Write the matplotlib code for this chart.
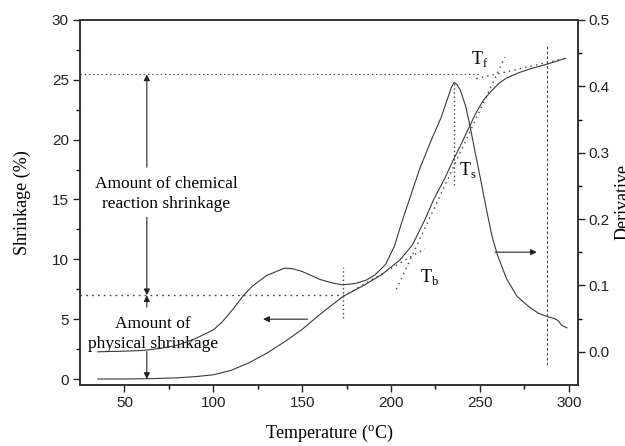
import numpy as np
import matplotlib
matplotlib.use('Agg')
import matplotlib.pyplot as plt

# shrinkage curve (left axis, %)
temp_s = [35, 50, 65, 80, 90, 100, 110, 120, 130, 140, 150, 160, 173, 185, 195,
          205, 212, 219, 224, 230, 235, 240, 243.5, 248, 252, 256, 261, 265, 272,
          278, 287.6, 293, 298]
shrink = [0.0, 0.0, 0.03, 0.1, 0.2, 0.35, 0.72, 1.35, 2.15, 3.1, 4.15, 5.4, 6.9,
          7.85, 8.75, 9.95, 11.2, 13.3, 15.0, 16.7, 18.3, 19.8, 20.9, 22.3, 23.3,
          24.0, 24.75, 25.15, 25.6, 25.9, 26.3, 26.55, 26.8]

# derivative curve (right axis)
temp_d = [35, 50, 60, 70, 80, 90, 100, 105, 111, 117, 122, 130, 140, 145, 150,
          160, 168, 173, 180, 186, 191, 197, 202, 206, 211, 216, 222, 228, 232,
          234, 235.5, 237, 239, 242, 244.5, 247, 250, 254, 257, 260, 265, 271,
          278, 283, 288, 292, 294, 296, 299]
deriv = [0.0, 0.001, 0.002, 0.005, 0.010, 0.020, 0.033, 0.045, 0.064, 0.085,
         0.099, 0.115, 0.126, 0.125, 0.121, 0.109, 0.103, 0.101, 0.103, 0.108,
         0.116, 0.132, 0.160, 0.195, 0.235, 0.275, 0.315, 0.352, 0.383, 0.399,
         0.406, 0.403, 0.394, 0.370, 0.339, 0.305, 0.265, 0.210, 0.172, 0.145,
         0.110, 0.083, 0.067, 0.058, 0.053, 0.050, 0.047, 0.040, 0.036]

# characteristic levels / temperatures
y_total = 25.45
y_phys = 7.0
t_b0 = 173
t_peak = 235.5
t_end = 287.5

serif = 'Liberation Serif'
plt.rcParams['font.family'] = 'Liberation Sans'
plt.rcParams['font.size'] = 11

fig = plt.figure(figsize=(6.25, 4.46), dpi=100)
ax = fig.add_axes([0.128, 0.1368, 0.7963, 0.8184])
ax2 = ax.twinx()

line_c = '#3a3a3a'
dot_c = '#444444'

ax.plot(temp_s, shrink, color=line_c, lw=0.8)
ax2.plot(temp_d, deriv, color=line_c, lw=0.8)

# guide lines
ax.plot([25, 250], [y_total, y_total], color=dot_c, lw=0.8, dashes=(1.2, 2.6))
ax.plot([25, t_b0], [y_phys, y_phys], color=dot_c, lw=1.0, dashes=(1.2, 3.0))
ax.plot([t_b0, t_b0], [5.1, 9.4], color=dot_c, lw=1.0, dashes=(1.0, 2.0))
ax.plot([t_peak, t_peak], [16.2, 24.8], color=dot_c, lw=1.0, dashes=(1.0, 2.0))
ax.plot([t_end, t_end], [1.2, 27.9], color=dot_c, lw=0.7, dashes=(3.0, 2.0))
# tangents
ax.plot([173, 219], [6.9, 10.9], color=dot_c, lw=1.0, dashes=(1.0, 3.0))
ax.plot([203, 264], [7.5, 26.9], color=dot_c, lw=1.0, dashes=(1.0, 3.0))
ax.plot([248, 298], [25.1, 26.8], color=dot_c, lw=1.0, dashes=(1.0, 3.0))

# arrows
ap = dict(arrowstyle='-|>', color='#222222', lw=0.8, mutation_scale=9,
          shrinkA=0, shrinkB=0)
ax.annotate('', xy=(62.6, y_total), xytext=(62.6, 17.7), arrowprops=ap)
ax.annotate('', xy=(62.6, y_phys), xytext=(62.6, 13.5), arrowprops=ap)
ax.annotate('', xy=(62.6, y_phys), xytext=(62.6, 6.0), arrowprops=ap)
ax.annotate('', xy=(62.6, 0.0), xytext=(62.6, 2.3), arrowprops=ap)
ax.annotate('', xy=(128, 5.0), xytext=(153, 5.0), arrowprops=ap)
ax.annotate('', xy=(282, 10.6), xytext=(258.5, 10.6), arrowprops=ap)

ax.text(73.5, 15.45, 'Amount of chemical\nreaction shrinkage', family=serif,
        fontsize=12.5, ha='center', va='center', linespacing=1.33)
ax.text(66, 3.8, 'Amount of\nphysical shrinkage', family=serif,
        fontsize=12.5, ha='center', va='center', linespacing=1.33)
ax.text(250, 26.7, r'T$_\mathregular{f}$', family=serif, fontsize=13,
        ha='center', va='center')
ax.text(243, 17.5, r'T$_\mathregular{s}$', family=serif, fontsize=13,
        ha='center', va='center')
ax.text(221.5, 8.5, r'T$_\mathregular{b}$', family=serif, fontsize=13,
        ha='center', va='center')

ax.set_xlim(25, 305)
ax.set_ylim(-0.5, 30)
ax2.set_ylim(-0.05, 0.5)

ax.set_xticks([50, 100, 150, 200, 250, 300])
ax.set_xticks([75, 125, 175, 225, 275], minor=True)
ax.set_yticks([0, 5, 10, 15, 20, 25, 30])
ax.set_yticks([2.5, 7.5, 12.5, 17.5, 22.5, 27.5], minor=True)
ax2.set_yticks([0.0, 0.1, 0.2, 0.3, 0.4, 0.5])
ax2.set_yticks([0.05, 0.15, 0.25, 0.35, 0.45], minor=True)
ax2.set_yticklabels(['0.0', '0.1', '0.2', '0.3', '0.4', '0.5'])

for a in (ax, ax2):
    a.tick_params(which='major', direction='out', length=5, width=1.0, pad=3,
                  labelsize=11, colors='#222222')
    a.tick_params(which='minor', direction='out', length=3, width=1.0)
    for s in a.spines.values():
        s.set_linewidth(1.2)
        s.set_color('#333333')
ax.tick_params(top=False, right=False)
ax.tick_params(which='minor', top=False, right=False)

ax.set_xlabel(r'Temperature ($^\mathregular{o}$C)', family=serif, fontsize=13,
              labelpad=9)
ax.set_ylabel('Shrinkage (%)', family=serif, fontsize=13, labelpad=15)
ax2.set_ylabel('Derivative', family=serif, fontsize=13, labelpad=3)

fig.savefig('out.png', dpi=100)
